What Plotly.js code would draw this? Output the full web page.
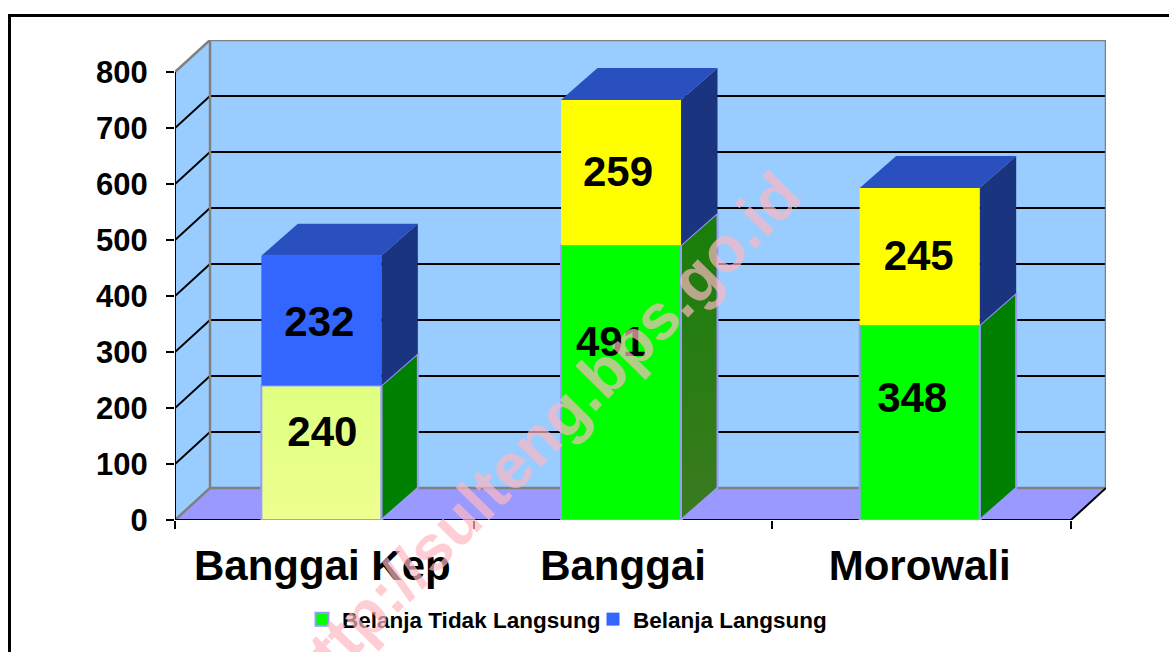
<!DOCTYPE html>
<html>
<head>
<meta charset="utf-8">
<script src="https://cdn.plot.ly/plotly-3.0.1.min.js"></script>
<style>html,body{margin:0;padding:0;background:#fff;overflow:hidden}#chart{width:1169px;height:652px}</style>
</head>
<body>
<div id="chart"></div>
<script>
// ---- data ----
var categories = ['Banggai Kep', 'Banggai', 'Morowali'];
var belanjaTidakLangsung = [240, 491, 348];
var belanjaLangsung = [232, 259, 245];
var yTicks = [0, 100, 200, 300, 400, 500, 600, 700, 800];
var seriesNames = ['Belanja Tidak Langsung', 'Belanja Langsung'];

// ---- styling ----
var W = 1169, H = 652;
var plotL = 175, plotR = 1106, plotT = 40, plotB = 520;
var pxPerCat = 298.67, pxPerVal = 0.56;
var dx = 35 / pxPerCat, dy = 32 / pxPerVal;     // oblique depth of the walls, in axis units
var barDx = 36.5 / pxPerCat;                    // oblique depth of the bars
var nCat = categories.length, yMax = 800;
var barHalf = 60 / pxPerCat, barShift = -2 / pxPerCat;
var barNudge = [-1, 0, 0], tickNudge = [0, 2, 0];
var lowerFront = ['#E4FF86', '#00FF00', '#00FF00'];
var lowerSide = ['#008000', '#2A7C1A', '#008000'];
var upperFront = ['#3366FF', '#FFFF00', '#FFFF00'];
var topFace = '#2A4FBF', upperSide = '#1A3480', edge = '#9999FF';
var lowerLabelAt = 0.64;
var labelNudgeLower = [0, -10, -7.5], labelNudgeUpper = [-3, -3, -1];
var labelDropLower = [2, 1, 6], labelDropUpper = [5, 3, 3];

var traces = [];
function poly(xs, ys, fill, lineColor, lineWidth, extra) {
  var t = {type: 'scatter', mode: 'lines', x: xs, y: ys, hoverinfo: 'skip', showlegend: false, cliponaxis: false,
    line: {color: lineColor || fill || 'black', width: lineWidth === undefined ? 0 : lineWidth}};
  if (fill) { t.fill = 'toself'; t.fillcolor = fill; }
  if (extra) { for (var k in extra) t[k] = extra[k]; }
  traces.push(t);
}
// walls and floor
poly([dx, nCat + dx, nCat + dx, dx, dx], [dy, dy, yMax + dy, yMax + dy, dy], '#99CCFF');
poly([0, dx, dx, 0, 0], [0, dy, yMax + dy, yMax, 0], '#99CCFF');
poly([0, dx, nCat + dx, nCat, 0], [0, dy, dy, 0, 0], '#9999FF');
// gridlines
yTicks.forEach(function (v) {
  if (v > 0 && v < yMax) poly([0, dx, nCat + dx], [v, v + dy, v + dy], null, '#000000', 2);
});
// wall edges
poly([0, dx, nCat + dx, nCat + dx, dx], [yMax, yMax + dy, yMax + dy, dy, dy], null, '#808080', 2.5);
poly([dx, dx, 0], [yMax + dy, dy, 0], null, '#808080', 2.5);
// axis lines
poly([0, 0], [0, yMax], null, '#000000', 2);
poly([0, nCat, nCat + dx], [0, 0, dy], null, '#000000', 2);

// bars
categories.forEach(function (c, i) {
  var mid = i + 0.5 + barShift + barNudge[i] / pxPerCat;
  var xl = mid - barHalf, xr = mid + barHalf;
  var a = belanjaTidakLangsung[i], b = a + belanjaLangsung[i];
  // lower segment
  var sideExtra = null;
  if (i === 1) sideExtra = {fillgradient: {type: 'vertical', colorscale: [[0, '#3B7A20'], [1, '#187F08']]}};
  poly([xr, xr + barDx, xr + barDx, xr, xr], [0, dy, a + dy, a, 0], lowerSide[i], edge, 2, sideExtra);
  var extra = null;
  if (i === 0) extra = {fillgradient: {type: 'vertical', colorscale: [[0, '#EEFF90'], [1, '#DFFF80']]}};
  poly([xl, xr, xr, xl, xl], [0, 0, a, a, 0], lowerFront[i], edge, 2, extra);
  // upper segment
  poly([xr, xr + barDx, xr + barDx, xr, xr], [a, a + dy, b + dy, b, a], upperSide, upperSide, 0);
  poly([xl, xr, xr + barDx, xl + barDx, xl], [b, b, b + dy, b + dy, b], topFace, topFace, 0);
  poly([xl, xr, xr, xl, xl], [a, a, b, b, a], upperFront[i], upperFront[i], 0);
});

// value labels
var labelX = [], labelY = [], labelText = [];
categories.forEach(function (c, i) {
  var a = belanjaTidakLangsung[i], b = belanjaLangsung[i], cx = i + 0.5 + barShift;
  labelX.push(cx + labelNudgeLower[i] / pxPerCat); labelY.push(a * lowerLabelAt - labelDropLower[i] / pxPerVal); labelText.push(String(a));
  labelX.push(cx + labelNudgeUpper[i] / pxPerCat); labelY.push(a + b / 2 - labelDropUpper[i] / pxPerVal); labelText.push(String(b));
});
traces.push({type: 'scatter', mode: 'text', x: labelX, y: labelY, text: labelText, textposition: 'middle center',
  cliponaxis: false, hoverinfo: 'skip', showlegend: false,
  textfont: {family: '"Liberation Sans", Arial, sans-serif', size: 42, color: '#000', weight: 700}});

// legend keys
traces.push({type: 'scatter', mode: 'markers', x: [null], y: [null], name: seriesNames[0],
  marker: {symbol: 'square', size: 13, color: '#00FF00', line: {color: edge, width: 2}}});
traces.push({type: 'scatter', mode: 'markers', x: [null], y: [null], name: seriesNames[1],
  marker: {symbol: 'square', size: 13, color: '#3366FF'}});

var layout = {
  width: W, height: H,
  paper_bgcolor: '#fff', plot_bgcolor: 'rgba(0,0,0,0)',
  margin: {l: plotL, r: W - plotR, t: plotT, b: H - plotB, pad: 0},
  font: {family: '"Liberation Sans", Arial, sans-serif', color: '#000'},
  xaxis: {
    range: [0, (plotR - plotL) / pxPerCat], fixedrange: true, showgrid: false, zeroline: false, showline: false,
    tickmode: 'array', tickvals: categories.map(function (c, i) { return i + 0.5 + barShift + tickNudge[i] / pxPerCat; }), ticktext: categories,
    ticks: '', ticklabelstandoff: 17,
    tickfont: {size: 42, weight: 700, color: '#000'},
    minor: {tickmode: 'array', tickvals: [0, 1, 2, 3], ticks: 'outside', ticklen: 8, tickwidth: 2, tickcolor: '#000', showgrid: false}
  },
  yaxis: {
    range: [0, (plotB - plotT) / pxPerVal], fixedrange: true, showgrid: false, zeroline: false, showline: false,
    tickmode: 'array', tickvals: yTicks, ticktext: yTicks.map(String),
    ticks: 'outside', ticklen: 8, tickwidth: 2, tickcolor: '#000', ticklabelstandoff: 12,
    tickfont: {size: 31, weight: 700, color: '#000'}
  },
  showlegend: true,
  legend: {orientation: 'h', xref: 'container', yref: 'container', x: 302 / W, xanchor: 'left', y: (H - 598) / H, yanchor: 'top',
    entrywidth: 246, entrywidthmode: 'pixels',
    font: {size: 22.5, weight: 700, color: '#000'}, bgcolor: 'rgba(0,0,0,0)', itemclick: false, itemdoubleclick: false},
  shapes: [{
    type: 'path', xref: 'paper', yref: 'paper',
    path: (function () {
      function px(x) { return (x - plotL) / (plotR - plotL); }
      function py(y) { return (plotB - y) / (plotB - plotT); }
      return 'M ' + px(9.5) + ' ' + py(700) + ' L ' + px(9.5) + ' ' + py(15.5) + ' L ' + px(1200) + ' ' + py(15.5);
    })(),
    line: {color: '#000', width: 3}
  }],
  annotations: [{
    text: 'http://sulteng.bps.go.id', xref: 'paper', yref: 'paper',
    x: (540.5 - plotL) / (plotR - plotL), y: (plotB - 435.5) / (plotB - plotT), xanchor: 'center', yanchor: 'middle',
    showarrow: false, textangle: -45.5, opacity: 0.69,
    font: {size: 64, weight: 700, color: '#FFB9C3'}
  }]
};
Plotly.newPlot('chart', traces, layout, {displayModeBar: false, staticPlot: true});
</script>
</body>
</html>
